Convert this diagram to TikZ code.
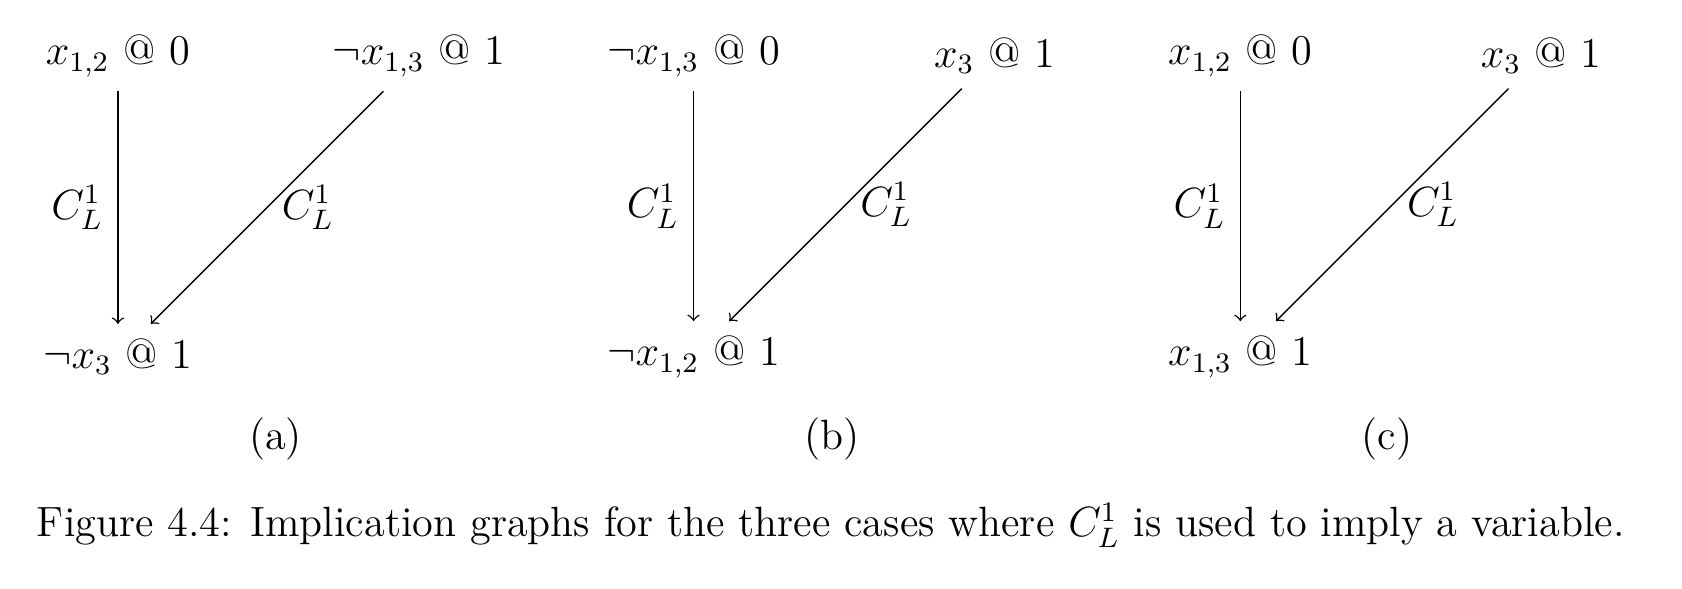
\documentclass[tikz,border=0pt,12pt]{standalone}
\usepackage{amsmath, amssymb}

\begin{document}
\begin{tikzpicture}[x=0.304pt, y=-0.304pt, node distance={3cm}, >=to, lit/.style = {inner sep=0.333em}]
    \useasboundingbox (0,0) rectangle (1569,549);

    % (a)
    \node[lit] (top1) at (110,52) {$x_{1,2}$ @ 0};
    \node[lit] (side1) [right of=top1] {$\neg x_{1,3}$ @ 1};
    \node[lit] (bot1) [below of=top1] {$\neg x_3$ @ 1};
    \draw[->] (top1) -- node[left] {$C^1_L$} (bot1);
    \draw[->] (side1) -- node[right] {$C^1_L$} (bot1);
    \node (sub1) at (257,409) {(a)};

    % (b)
    \node[lit] (top2) at (647,52) {$\neg x_{1,3}$ @ 0};
    \node[lit] (side2) [right of=top2] {$x_3$ @ 1};
    \node[lit] (bot2) [below of=top2] {$\neg x_{1,2}$ @ 1};
    \draw[->] (top2) -- node[left] {$C^1_L$} (bot2);
    \draw[->] (side2) -- node[right] {$C^1_L$} (bot2);
    \node (sub2) at (776,409) {(b)};

    % (c)
    \node[lit] (top3) at (1157,52) {$x_{1,2}$ @ 0};
    \node[lit] (side3) [right of=top3] {$x_3$ @ 1};
    \node[lit] (bot3) [below of=top3] {$x_{1,3}$ @ 1};
    \draw[->] (top3) -- node[left] {$C^1_L$} (bot3);
    \draw[->] (side3) -- node[right] {$C^1_L$} (bot3);
    \node (sub3) at (1294,409) {(c)};

    \node (cap) at (775,490) {Figure 4.4: Implication graphs for the three cases where $C^1_L$ is used to imply a variable.};
\end{tikzpicture}
\end{document}
